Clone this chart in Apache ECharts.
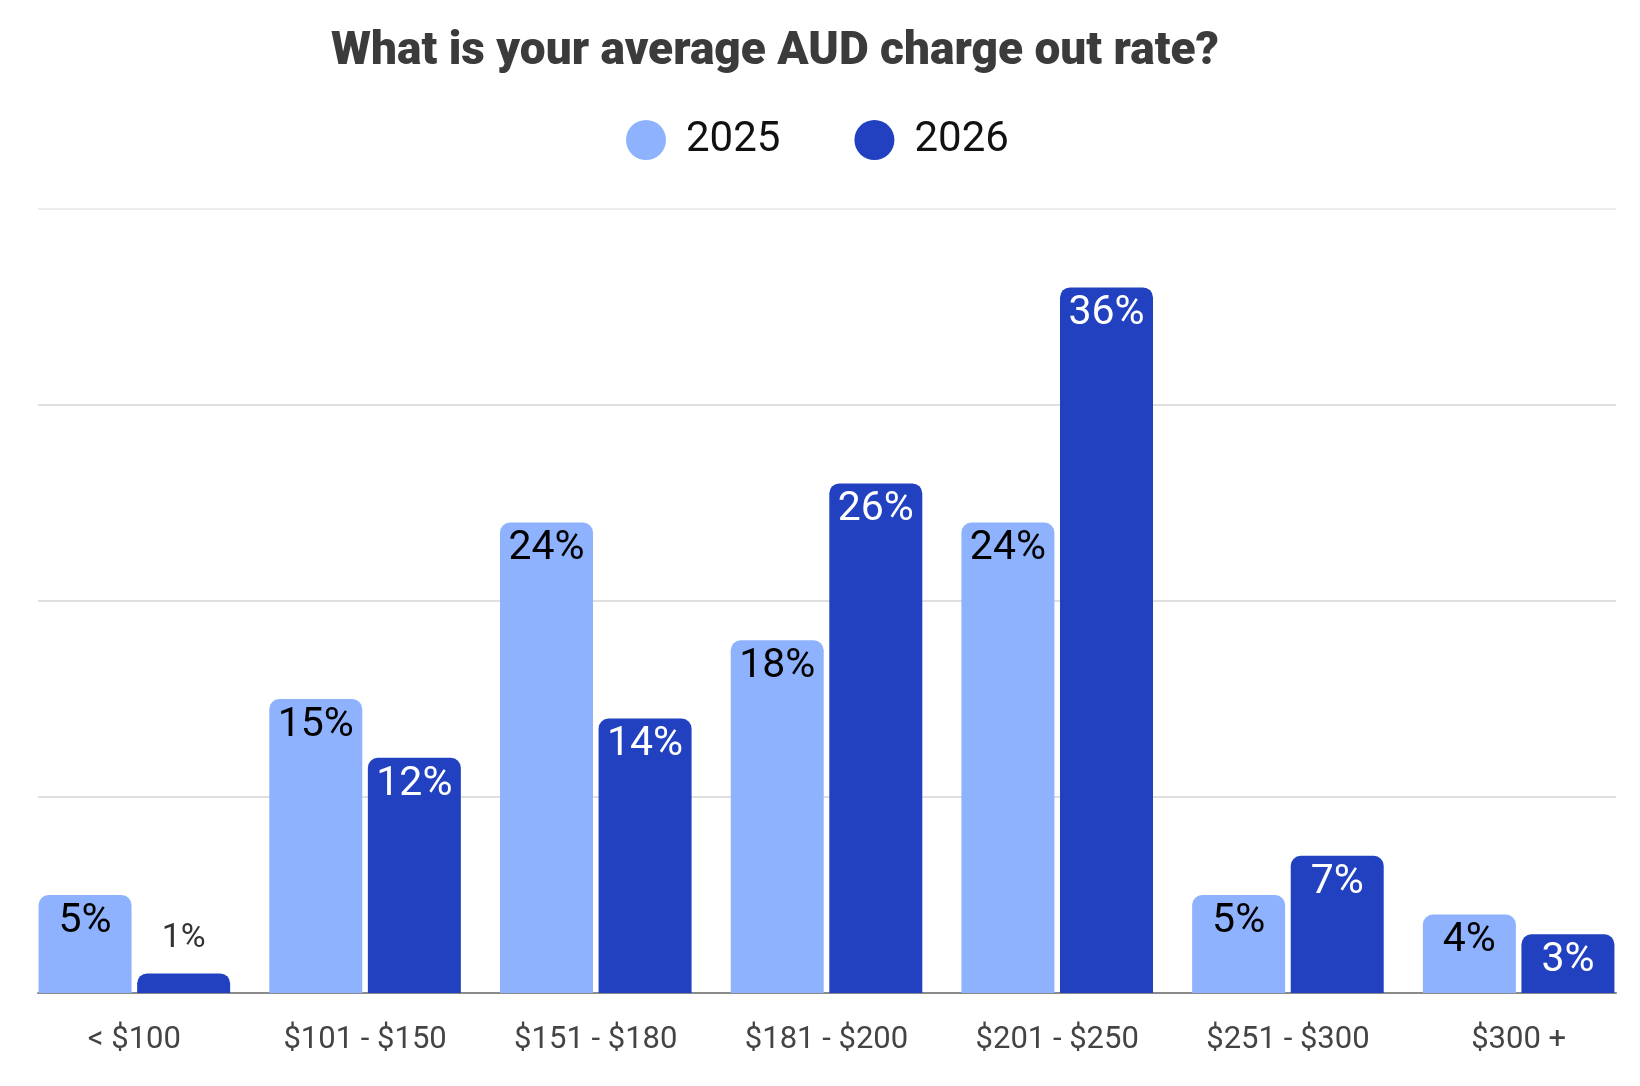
<!DOCTYPE html>
<html>
<head>
<meta charset="utf-8">
<script src="https://cdn.jsdelivr.net/npm/echarts@6/dist/echarts.min.js"></script>
<style>
  html, body { margin: 0; padding: 0; background: #fff; }
  #chart { width: 1640px; height: 1086px; }
</style>
</head>
<body>
<div id="chart"></div>
<script>
var categories = ['< $100', '$101 - $150', '$151 - $180', '$181 - $200', '$201 - $250', '$251 - $300', '$300 +'];
var values2025 = [5, 15, 24, 18, 24, 5, 4];
var values2026 = [1, 12, 14, 26, 36, 7, 3];
var yMax = 40;
var yStep = 10;

var lightBlue = '#8fb2fe';
var darkBlue = '#2241c0';

// small bars get their label above the bar
function barData(values, insideColor) {
    return values.map(function (v) {
        if (v < 2) {
            return {
                value: v,
                label: { position: 'top', distance: 18, color: '#333', fontSize: 34 }
            };
        }
        return { value: v, label: { color: insideColor } };
    });
}

var chart = echarts.init(document.getElementById('chart'));
chart.setOption({
    animation: false,
    title: {
        text: 'What is your average AUD charge out rate?',
        left: 326,
        top: 24,
        textStyle: {
            fontFamily: 'Roboto',
            fontWeight: 900,
            fontSize: 46,
            color: '#3b3b3b'
        }
    },
    legend: {
        left: 621,
        top: 114,
        icon: 'circle',
        itemWidth: 40,
        itemHeight: 40,
        itemGap: 74,
        textStyle: {
            fontFamily: 'Roboto',
            fontSize: 42,
            color: '#111',
            padding: [0, 0, 0, 15]
        },
        data: ['2025', '2026']
    },
    grid: [
        { left: 38, right: 24, top: 209, bottom: 93 },
        { left: 19, right: 6, top: 209, bottom: 93 }
    ],
    xAxis: [
        {
            gridIndex: 0,
            type: 'value',
            min: 0,
            max: 1,
            axisLine: { show: true, lineStyle: { color: '#8a8a8a', width: 2 } },
            axisTick: { show: false },
            axisLabel: { show: false },
            splitLine: { show: false }
        },
        {
            gridIndex: 1,
            type: 'category',
            data: categories,
            axisLine: { show: false },
            axisTick: { show: false },
            axisLabel: {
                margin: 32,
                fontFamily: 'Roboto',
                fontSize: 31,
                color: '#444'
            }
        }
    ],
    yAxis: [
        {
            gridIndex: 0,
            type: 'value',
            min: 0,
            max: yMax,
            interval: yStep,
            axisLine: { show: false },
            axisTick: { show: false },
            axisLabel: { show: false },
            splitLine: {
                lineStyle: {
                    color: ['#d4d4d4', '#d4d4d4', '#d4d4d4', '#d4d4d4', '#e6e6e6'],
                    width: 1.5
                }
            }
        },
        {
            gridIndex: 1,
            type: 'value',
            min: 0,
            max: yMax,
            interval: yStep,
            show: false
        }
    ],
    series: [
        {
            name: '2025',
            type: 'bar',
            xAxisIndex: 1,
            yAxisIndex: 1,
            barWidth: 93,
            barGap: '6%',
            itemStyle: { color: lightBlue, borderRadius: [10, 10, 0, 0] },
            label: {
                show: true,
                position: 'insideTop',
                distance: 6,
                formatter: '{c}%',
                fontFamily: 'Roboto',
                fontSize: 41
            },
            data: barData(values2025, '#000')
        },
        {
            name: '2026',
            type: 'bar',
            xAxisIndex: 1,
            yAxisIndex: 1,
            barWidth: 93,
            barGap: '6%',
            itemStyle: { color: darkBlue, borderRadius: [10, 10, 0, 0] },
            label: {
                show: true,
                position: 'insideTop',
                distance: 6,
                formatter: '{c}%',
                fontFamily: 'Roboto',
                fontSize: 41
            },
            data: barData(values2026, '#fff')
        }
    ]
});
</script>
</body>
</html>
